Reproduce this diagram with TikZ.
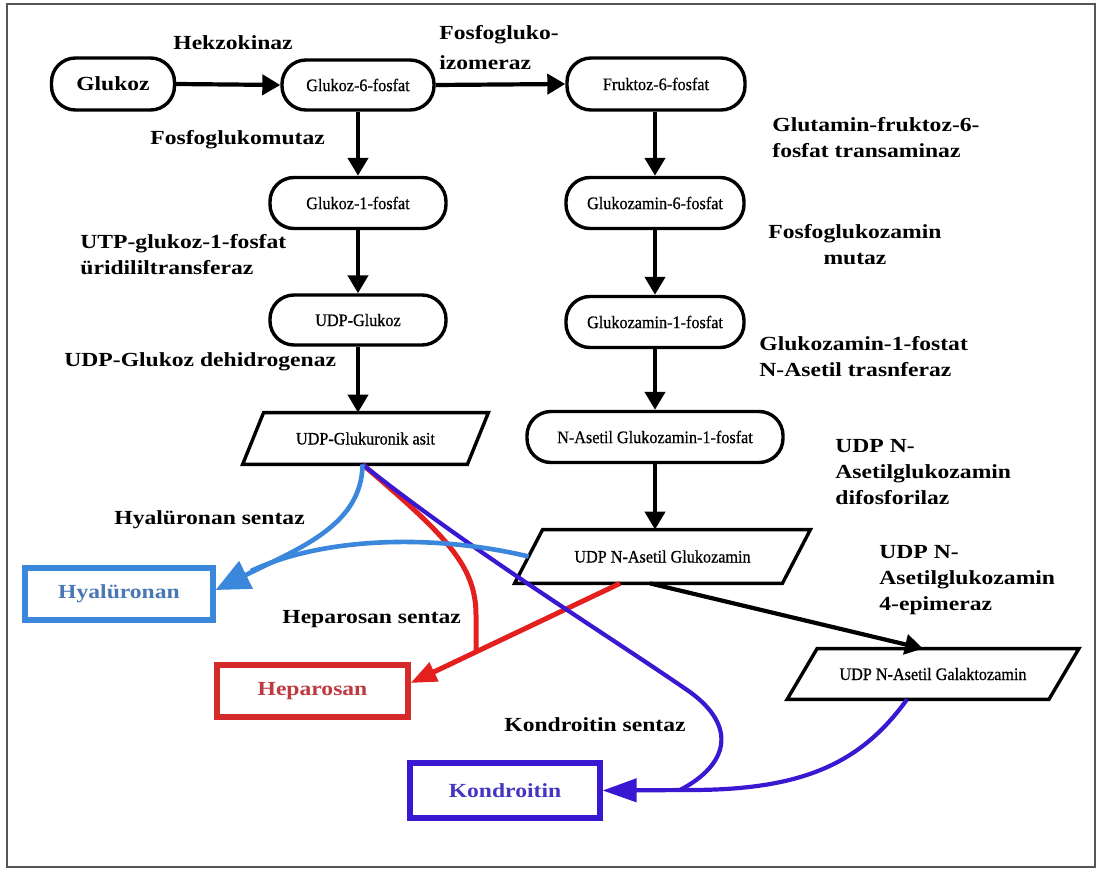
\documentclass[tikz,border=0pt]{standalone}
\usepackage{fontspec}
\setmainfont{Liberation Serif}
\newfontfamily\lblfont{Liberation Serif}[FakeStretch=1.18]
\newfontfamily\smlfont{Liberation Serif}[FakeStretch=0.92,FakeBold=0.6]
\usetikzlibrary{arrows.meta}
\newcommand\lblf{\lblfont\bfseries\fontsize{10}{13}\selectfont}
\newcommand\smlf{\smlfont\fontsize{8.8}{10}\selectfont}
\newcommand\drawpara[2]{\draw[line width=1.7pt, line join=miter] ([xshift=#2]#1.north west) -- ([xshift=#2]#1.north east) -- ([xshift=-#2]#1.south east) -- ([xshift=-#2]#1.south west) -- cycle;}
\definecolor{hblue}{HTML}{3A87DC}
\definecolor{hbluetxt}{HTML}{4A78B4}
\definecolor{hred}{HTML}{E3201E}
\definecolor{hredbox}{HTML}{D42A2A}
\definecolor{hredtxt}{HTML}{BE3A40}
\definecolor{hpur}{HTML}{3A17D0}
\definecolor{hpurtxt}{HTML}{4535C0}
\definecolor{framec}{HTML}{555555}
\begin{document}
\begin{tikzpicture}[x=0.5pt,y=-0.5pt,
  pill/.style={draw, line width=1.7pt, rounded corners=12pt, inner sep=0pt, font=\smlf},
  para/.style={draw=none, inner sep=0pt, font=\smlf},
  lbl/.style={font=\lblf, inner sep=0pt, anchor=west, align=left},
  prod/.style={draw, line width=2.6pt, inner sep=0pt, font=\lblf},
  flow/.style={line width=2.1pt, -{Triangle[length=9pt,width=10pt]}},
  bluec/.style={draw=hblue, line width=2.3pt},
  redc/.style={draw=hred, line width=2.5pt},
  purc/.style={draw=hpur, line width=2.1pt}]
\useasboundingbox (0,0) rectangle (1103,872);
\fill[white] (0,0) rectangle (1103,872);
\draw[framec, line width=1.4pt] (7,4) rectangle (1095,867);

% main nodes
\node[pill, font=\lblf, minimum width=61.5pt, minimum height=26pt] (glukoz) at (113,84) {Glukoz};
\node[pill, minimum width=76pt, minimum height=25pt] (g6p) at (358,85) {Glukoz-6-fosfat};
\node[pill, minimum width=89pt, minimum height=26pt] (f6p) at (656,84) {Fruktoz-6-fosfat};
\node[pill, minimum width=88pt, minimum height=25.5pt] (g1p) at (358,203) {Glukoz-1-fosfat};
\node[pill, minimum width=88pt, minimum height=25pt] (udpg) at (358,320) {UDP-Glukoz};
\node[para, minimum width=112pt, minimum height=25.5pt] (udpga) at (365.5,438.5) {UDP-Glukuronik asit};
\drawpara{udpga}{5.25pt}
\node[pill, minimum width=89pt, minimum height=25.5pt] (gn6p) at (655,203) {Glukozamin-6-fosfat};
\node[pill, minimum width=89pt, minimum height=25.5pt] (gn1p) at (655,322) {Glukozamin-1-fosfat};
\node[pill, minimum width=128pt, minimum height=25.5pt] (nag1p) at (655,437) {N-Asetil Glukozamin-1-fosfat};
\node[para, minimum width=133.5pt, minimum height=26.5pt] (udpnag) at (662.5,556.5) {UDP N-Asetil Glukozamin};
\drawpara{udpnag}{7pt}
\node[para, minimum width=130.5pt, minimum height=25pt] (udpnagal) at (933,674) {UDP N-Asetil Galaktozamin};
\drawpara{udpnagal}{7.5pt}

% products
\node[prod, draw=hblue, text=hbluetxt, minimum width=94pt, minimum height=26pt] (hya) at (119,594) {Hyalüronan};
\node[prod, draw=hredbox, text=hredtxt, minimum width=95.5pt, minimum height=26pt] (hep) at (312.5,691) {Heparosan};
\node[prod, draw=hpur, text=hpurtxt, minimum width=95pt, minimum height=27.5pt] (kon) at (505,790.5) {Kondroitin};

% enzyme labels
\node[lbl] (l1) at (173,43) {Hekzokinaz};
\node[lbl] (l2) at (439,48) {Fosfogluko-\\[2pt]izomeraz};
\node[lbl] (l3) at (150,140) {Fosfoglukomutaz};
\node[lbl] (l4) at (80,255) {UTP-glukoz-1-fosfat\\üridililtransferaz};
\node[lbl] (l5) at (64,362) {UDP-Glukoz dehidrogenaz};
\node[lbl] (l6) at (772,138) {Glutamin-fruktoz-6-\\fosfat transaminaz};
\node[lbl, align=center, anchor=center] (l7) at (855,245) {Fosfoglukozamin\\mutaz};
\node[lbl] (l8) at (759,357) {Glukozamin-1-fostat\\N-Asetil trasnferaz};
\node[lbl] (l9) at (835,472) {UDP N-\\Asetilglukozamin\\difosforilaz};
\node[lbl] (l10) at (879,580) {UDP N-\\Asetilglukozamin\\4-epimeraz};
\node[lbl] (l11) at (114,520) {Hyalüronan sentaz};
\node[lbl] (l12) at (282,619) {Heparosan sentaz};
\node[lbl] (l13) at (504,725) {Kondroitin sentaz};

% black flow arrows
\draw[flow] (glukoz.east) -- (g6p.west);
\draw[flow] (g6p.east) -- (f6p.west);
\draw[flow] (g6p.south) -- (g1p.north);
\draw[flow] (g1p.south) -- (udpg.north);
\draw[flow] (udpg.south) -- (udpga.north -| udpg.south);
\draw[flow] (f6p.south -| gn6p.north) -- (gn6p.north);
\draw[flow] (gn6p.south) -- (gn1p.north);
\draw[flow] (gn1p.south) -- (nag1p.north);
\draw[flow] (nag1p.south) -- (udpnag.north -| nag1p.south);
\draw[flow] ([xshift=-6.25pt]udpnag.south) -- ([xshift=-5pt]udpnagal.north);

% coloured connectors
\coordinate (src) at ([xshift=-1.5pt]udpga.south);
\coordinate (rmerge) at (476,651);
\coordinate (pmerge) at (680,790);
\coordinate (hmerge) at (251,571);

\draw[redc] (src) .. controls (445,535) and (476,565) .. (476,615) -- (rmerge);
\draw[redc, -{Triangle[length=13pt,width=10pt]}] ([xshift=-21.25pt]udpnag.south) -- ([yshift=4pt]hep.east);

\draw[purc] (src) .. controls (470,550) and (600,630) .. (690,692) .. controls (738,727) and (728,765) .. (pmerge);
\draw[purc, -{Triangle[length=17pt,width=11.5pt]}] ([xshift=-13pt]udpnagal.south) .. controls (860,765) and (800,790) .. (690,790) -- (kon.east);

\draw[bluec, -{Triangle[length=17pt,width=15pt]}] (src) .. controls (362,525) and (300,548) .. ([yshift=2pt]hya.east);
\draw[bluec] (udpnag.west) .. controls (430,533) and (320,538) .. (hmerge);
\end{tikzpicture}
\end{document}
